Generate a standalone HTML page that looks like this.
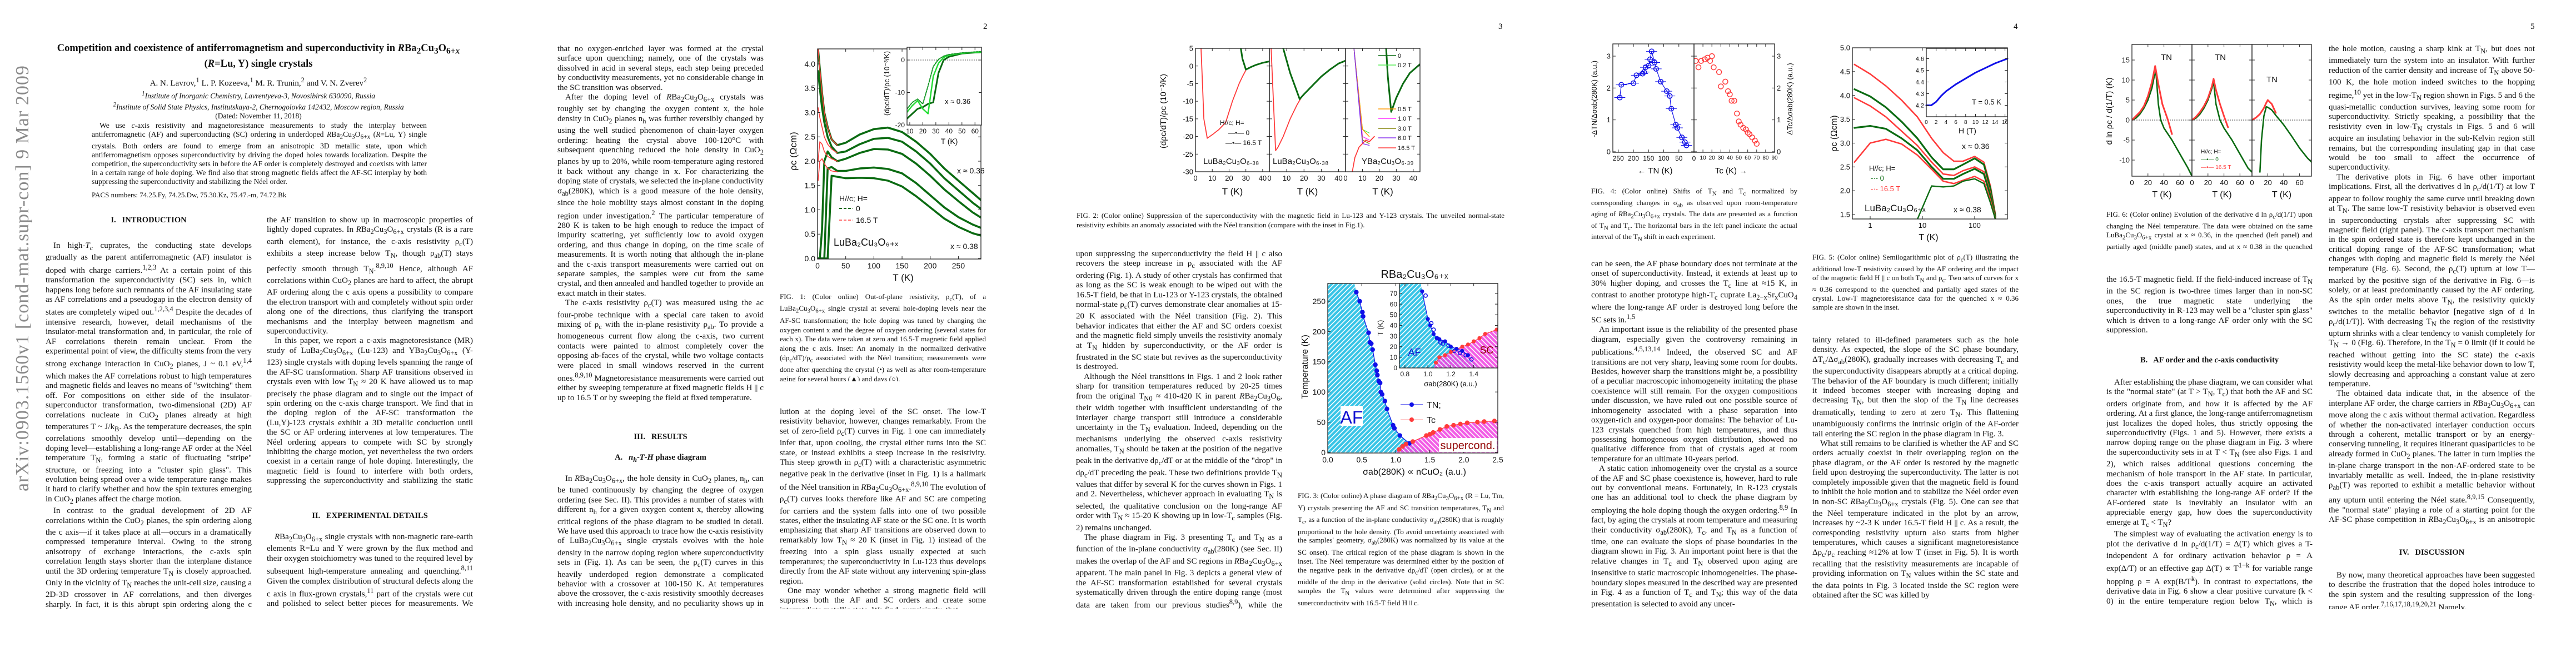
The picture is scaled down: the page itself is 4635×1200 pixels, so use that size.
<!DOCTYPE html>
<html><head><meta charset="utf-8">
<style>
html,body{margin:0;padding:0;background:#fff;}
#page{position:relative;width:4635px;height:1200px;overflow:hidden;background:#fff;font-family:"Liberation Serif",serif;color:#111;}
.col{position:absolute;width:371px;font-size:15px;line-height:17.4px;text-align:justify;overflow:hidden;hyphens:auto;}
.col p{margin:0;text-indent:14px;}
.cap{position:absolute;width:371px;font-size:13px;line-height:16.8px;text-align:justify;overflow:hidden;}
.h{position:absolute;width:371px;text-align:center;font-weight:bold;font-size:14.5px;}
.pn{position:absolute;top:40px;font-size:15px;}
#figs{position:absolute;left:0;top:0;}
</style></head>
<body>
<div id="page">

<div style="position:absolute;left:22px;top:884px;transform-origin:0 0;transform:rotate(-90deg);font-size:34px;color:#8a8a8a;white-space:nowrap;letter-spacing:1px;">arXiv:0903.1560v1 [cond-mat.supr-con] 9 Mar 2009</div>

<div style="position:absolute;left:90px;width:750px;top:76px;text-align:center;font-weight:bold;font-size:18.5px;line-height:23px;">Competition and coexistence of antiferromagnetism and superconductivity in <i>R</i>Ba<sub>2</sub>Cu<sub>3</sub>O<sub>6+<i>x</i></sub> (<i>R</i>=Lu, Y) single crystals</div>
<div style="position:absolute;left:90px;width:750px;top:137px;text-align:center;font-size:15px;">A. N. Lavrov,<sup>1</sup> L. P. Kozeeva,<sup>1</sup> M. R. Trunin,<sup>2</sup> and V. N. Zverev<sup>2</sup></div>
<div style="position:absolute;left:90px;width:750px;top:160px;text-align:center;font-size:13.5px;line-height:16px;"><i><sup>1</sup>Institute of Inorganic Chemistry, Lavrentyeva-3, Novosibirsk 630090, Russia<br><sup>2</sup>Institute of Solid State Physics, Institutskaya-2, Chernogolovka 142432, Moscow region, Russia</i><br>(Dated: November 11, 2018)</div>
<div style="position:absolute;left:165px;width:603px;top:218px;font-size:13.6px;line-height:16px;text-align:justify;text-indent:14px;">We use <i>c</i>-axis resistivity and magnetoresistance measurements to study the interplay between antiferromagnetic (AF) and superconducting (SC) ordering in underdoped <i>R</i>Ba<sub>2</sub>Cu<sub>3</sub>O<sub>6+x</sub> (<i>R</i>=Lu, Y) single crystals. Both orders are found to emerge from an anisotropic 3D metallic state, upon which antiferromagnetism opposes superconductivity by driving the doped holes towards localization. Despite the competition, the superconductivity sets in before the AF order is completely destroyed and coexists with latter in a certain range of hole doping. We find also that strong magnetic fields affect the AF-SC interplay by both suppressing the superconductivity and stabilizing the Néel order.</div>
<div style="position:absolute;left:165px;top:343px;font-size:13px;">PACS numbers: 74.25.Fy, 74.25.Dw, 75.30.Kz, 75.47.-m, 74.72.Bk</div>

<div class="h" style="left:82px;top:388px;">I.&nbsp;&nbsp; INTRODUCTION</div>
<div class="col" style="left:82px;top:434px;height:662px;"><p>In high-<i>T<sub>c</sub></i> cuprates, the conducting state develops gradually as the parent antiferromagnetic (AF) insulator is doped with charge carriers.<sup>1,2,3</sup> At a certain point of this transformation the superconductivity (SC) sets in, which happens long before such remnants of the AF insulating state as AF correlations and a pseudogap in the electron density of states are completely wiped out.<sup>1,2,3,4</sup> Despite the decades of intensive research, however, detail mechanisms of the insulator-metal transformation and, in particular, the role of AF correlations therein remain unclear. From the experimental point of view, the difficulty stems from the very strong exchange interaction in CuO<sub>2</sub> planes, J ~ 0.1 eV,<sup>1,4</sup> which makes the AF correlations robust to high temperatures and magnetic fields and leaves no means of "switching" them off. For compositions on either side of the insulator-superconductor transformation, two-dimensional (2D) AF correlations nucleate in CuO<sub>2</sub> planes already at high temperatures T ~ J/k<sub>B</sub>. As the temperature decreases, the spin correlations smoothly develop until—depending on the doping level—establishing a long-range AF order at the Néel temperature T<sub>N</sub>, forming a static of fluctuating "stripe" structure, or freezing into a "cluster spin glass". This evolution being spread over a wide temperature range makes it hard to clarify whether and how the spin textures emerging in CuO<sub>2</sub> planes affect the charge motion.</p><p>In contrast to the gradual development of 2D AF correlations within the CuO<sub>2</sub> planes, the spin ordering along the c axis—if it takes place at all—occurs in a dramatically compressed temperature interval. Owing to the strong anisotropy of exchange interactions, the c-axis spin correlation length stays shorter than the interplane distance until the 3D ordering temperature T<sub>N</sub> is closely approached. Only in the vicinity of T<sub>N</sub> reaches the unit-cell size, causing a 2D-3D crossover in AF correlations, and then diverges sharply. In fact, it is this abrupt spin ordering along the c direction that allows the AF transition to show up.</p></div>
<div class="col" style="left:480px;top:388px;height:488px;"><p style="text-indent:0">the AF transition to show up in macroscopic properties of lightly doped cuprates. In <i>R</i>Ba<sub>2</sub>Cu<sub>3</sub>O<sub>6+x</sub> crystals (R is a rare earth element), for instance, the c-axis resistivity ρ<sub>c</sub>(T) exhibits a steep increase below T<sub>N</sub>, though ρ<sub>ab</sub>(T) stays perfectly smooth through T<sub>N</sub>.<sup>8,9,10</sup> Hence, although AF correlations within CuO<sub>2</sub> planes are hard to affect, the abrupt AF ordering along the c axis opens a possibility to compare the electron transport with and completely without spin order along one of the directions, thus clarifying the transport mechanisms and the interplay between magnetism and superconductivity.</p><p>In this paper, we report a c-axis magnetoresistance (MR) study of LuBa<sub>2</sub>Cu<sub>3</sub>O<sub>6+x</sub> (Lu-123) and YBa<sub>2</sub>Cu<sub>3</sub>O<sub>6+x</sub> (Y-123) single crystals with doping levels spanning the range of the AF-SC transformation. Sharp AF transitions observed in crystals even with low T<sub>N</sub> ≈ 20 K have allowed us to map precisely the phase diagram and to single out the impact of spin ordering on the c-axis charge transport. We find that in the doping region of the AF-SC transformation the (Lu,Y)-123 crystals exhibit a 3D metallic conduction until the SC or AF ordering intervenes at low temperatures. The Néel ordering appears to compete with SC by strongly inhibiting the charge motion, yet nevertheless the two orders coexist in a certain range of hole doping. Interestingly, the magnetic field is found to interfere with both orders, suppressing the superconductivity and stabilizing the static AF order.</p></div>
<div class="h" style="left:480px;top:920px;">II.&nbsp;&nbsp; EXPERIMENTAL DETAILS</div>
<div class="col" style="left:480px;top:958px;height:138px;"><p><i>R</i>Ba<sub>2</sub>Cu<sub>3</sub>O<sub>6+x</sub> single crystals with non-magnetic rare-earth elements R=Lu and Y were grown by the flux method and their oxygen stoichiometry was tuned to the required level by subsequent high-temperature annealing and quenching.<sup>8,11</sup> Given the complex distribution of structural defects along the c axis in flux-grown crystals,<sup>11</sup> part of the crystals were cut and polished to select better pieces for measurements. We confirmed also that no oxygen-enriched layer was formed.</p></div>

<div class="pn" style="left:1769px;">2</div>
<div class="col" style="left:1003px;top:80px;height:662px;"><p style="text-indent:0">that no oxygen-enriched layer was formed at the crystal surface upon quenching; namely, one of the crystals was dissolved in acid in several steps, each step being preceded by conductivity measurements, yet no considerable change in the SC transition was observed.</p><p>After the doping level of <i>R</i>Ba<sub>2</sub>Cu<sub>3</sub>O<sub>6+x</sub> crystals was roughly set by changing the oxygen content x, the hole density in CuO<sub>2</sub> planes n<sub>h</sub> was further reversibly changed by using the well studied phenomenon of chain-layer oxygen ordering: heating the crystal above 100-120°C with subsequent quenching reduced the hole density in CuO<sub>2</sub> planes by up to 20%, while room-temperature aging restored it back without any change in x. For characterizing the doping state of crystals, we selected the in-plane conductivity σ<sub>ab</sub>(280K), which is a good measure of the hole density, since the hole mobility stays almost constant in the doping region under investigation.<sup>2</sup> The particular temperature of 280 K is taken to be high enough to reduce the impact of impurity scattering, yet sufficiently low to avoid oxygen ordering, and thus change in doping, on the time scale of measurements. It is worth noting that although the in-plane and the c-axis transport measurements were carried out on separate samples, the samples were cut from the same crystal, and then annealed and handled together to provide an exact match in their states.</p><p>The c-axis resistivity ρ<sub>c</sub>(T) was measured using the ac four-probe technique with a special care taken to avoid mixing of ρ<sub>c</sub> with the in-plane resistivity ρ<sub>ab</sub>. To provide a homogeneous current flow along the c-axis, two current contacts were painted to almost completely cover the opposing ab-faces of the crystal, while two voltage contacts were placed in small windows reserved in the current ones.<sup>8,9,10</sup> Magnetoresistance measurements were carried out either by sweeping temperature at fixed magnetic fields H || c up to 16.5 T or by sweeping the field at fixed temperature.</p></div>
<div class="h" style="left:1003px;top:778px;">III.&nbsp;&nbsp; RESULTS</div>
<div class="h" style="left:1003px;top:815px;">A.&nbsp;&nbsp; <i>n<sub>h</sub></i>-<i>T</i>-<i>H</i> phase diagram</div>
<div class="col" style="left:1003px;top:853px;height:243px;"><p>In <i>R</i>Ba<sub>2</sub>Cu<sub>3</sub>O<sub>6+x</sub>, the hole density in CuO<sub>2</sub> planes, n<sub>h</sub>, can be tuned continuously by changing the degree of oxygen ordering (see Sec. II). This provides a number of states with different n<sub>h</sub> for a given oxygen content x, thereby allowing critical regions of the phase diagram to be studied in detail. We have used this approach to trace how the c-axis resistivity of LuBa<sub>2</sub>Cu<sub>3</sub>O<sub>6+x</sub> single crystals evolves with the hole density in the narrow doping region where superconductivity sets in (Fig. 1). As can be seen, the ρ<sub>c</sub>(T) curves in this heavily underdoped region demonstrate a complicated behavior with a crossover at 100-150 K. At temperatures above the crossover, the c-axis resistivity smoothly decreases with increasing hole density, and no peculiarity shows up in this smooth evolution.</p></div>
<div class="cap" style="left:1403px;top:526px;height:160px;">FIG. 1: (Color online) Out-of-plane resistivity, ρ<sub>c</sub>(T), of a LuBa<sub>2</sub>Cu<sub>3</sub>O<sub>6+x</sub> single crystal at several hole-doping levels near the AF-SC transformation; the hole doping was tuned by changing the oxygen content x and the degree of oxygen ordering (several states for each x). The data were taken at zero and 16.5-T magnetic field applied along the c axis. Inset: An anomaly in the normalized derivative (dρ<sub>c</sub>/dT)/ρ<sub>c</sub> associated with the Néel transition; measurements were done after quenching the crystal (•) as well as after room-temperature aging for several hours (▲) and days (○).</div>
<div class="col" style="left:1403px;top:733px;height:363px;"><p style="text-indent:0">lution at the doping level of the SC onset. The low-T resistivity behavior, however, changes remarkably. From the set of zero-field ρ<sub>c</sub>(T) curves in Fig. 1 one can immediately infer that, upon cooling, the crystal either turns into the SC state, or instead exhibits a steep increase in the resistivity. This steep growth in ρ<sub>c</sub>(T) with a characteristic asymmetric negative peak in the derivative (inset in Fig. 1) is a hallmark of the Néel transition in <i>R</i>Ba<sub>2</sub>Cu<sub>3</sub>O<sub>6+x</sub>.<sup>8,9,10</sup> The evolution of ρ<sub>c</sub>(T) curves looks therefore like AF and SC are competing for carriers and the system falls into one of two possible states, either the insulating AF state or the SC one. It is worth emphasizing that sharp AF transitions are observed down to remarkably low T<sub>N</sub> ≈ 20 K (inset in Fig. 1) instead of the freezing into a spin glass usually expected at such temperatures; the superconductivity in Lu-123 thus develops directly from the AF state without any intervening spin-glass region.</p><p>One may wonder whether a strong magnetic field will suppress both the AF and SC orders and create some intermediate metallic state. We find, surprisingly, that</p></div>

<div class="pn" style="left:2696px;">3</div>
<div class="cap" style="left:1937px;top:380px;width:770px;height:36px;">FIG. 2: (Color online) Suppression of the superconductivity with the magnetic field in Lu-123 and Y-123 crystals. The unveiled normal-state resistivity exhibits an anomaly associated with the Néel transition (compare with the inset in Fig.1).</div>
<div class="col" style="left:1936px;top:449px;height:647px;"><p style="text-indent:0">upon suppressing the superconductivity the field H || c also recovers the steep increase in ρ<sub>c</sub> associated with the AF ordering (Fig. 1). A study of other crystals has confirmed that as long as the SC is weak enough to be wiped out with the 16.5-T field, be that in Lu-123 or Y-123 crystals, the obtained normal-state ρ<sub>c</sub>(T) curves demonstrate clear anomalies at 15-20 K associated with the Néel transition (Fig. 2). This behavior indicates that either the AF and SC orders coexist and the magnetic field simply unveils the resistivity anomaly at T<sub>N</sub> hidden by superconductivity, or the AF order is frustrated in the SC state but revives as the superconductivity is destroyed.</p><p>Although the Néel transitions in Figs. 1 and 2 look rather sharp for transition temperatures reduced by 20-25 times from the original T<sub>N0</sub> ≈ 410-420 K in parent <i>R</i>Ba<sub>2</sub>Cu<sub>3</sub>O<sub>6</sub>, their width together with insufficient understanding of the interlayer charge transport still introduce a considerable uncertainty in the T<sub>N</sub> evaluation. Indeed, depending on the mechanisms underlying the observed c-axis resistivity anomalies, T<sub>N</sub> should be taken at the position of the negative peak in the derivative dρ<sub>c</sub>/dT or at the middle of the "drop" in dρ<sub>c</sub>/dT preceding the peak. These two definitions provide T<sub>N</sub> values that differ by several K for the curves shown in Figs. 1 and 2. Nevertheless, whichever approach in evaluating T<sub>N</sub> is selected, the qualitative conclusion on the long-range AF order with T<sub>N</sub> ≈ 15-20 K showing up in low-T<sub>c</sub> samples (Fig. 2) remains unchanged.</p><p>The phase diagram in Fig. 3 presenting T<sub>c</sub> and T<sub>N</sub> as a function of the in-plane conductivity σ<sub>ab</sub>(280K) (see Sec. II) makes the overlap of the AF and SC regions in <i>R</i>Ba<sub>2</sub>Cu<sub>3</sub>O<sub>6+x</sub> apparent. The main panel in Fig. 3 depicts a general view of the AF-SC transformation established for several crystals systematically driven through the entire doping range (most data are taken from our previous studies<sup>8,9</sup>), while the enlarged view of the critical region with new data points is shown in the inset. As</p></div>
<div class="cap" style="left:2335px;top:884px;height:205px;line-height:15.9px;">FIG. 3: (Color online) A phase diagram of <i>R</i>Ba<sub>2</sub>Cu<sub>3</sub>O<sub>6+x</sub> (R = Lu, Tm, Y) crystals presenting the AF and SC transition temperatures, T<sub>N</sub> and T<sub>c</sub>, as a function of the in-plane conductivity σ<sub>ab</sub>(280K) that is roughly proportional to the hole density. (To avoid uncertainty associated with the samples' geometry, σ<sub>ab</sub>(280K) was normalized by its value at the SC onset). The critical region of the phase diagram is shown in the inset. The Néel temperature was determined either by the position of the negative peak in the derivative dρ<sub>c</sub>/dT (open circles), or at the middle of the drop in the derivative (solid circles). Note that in SC samples the T<sub>N</sub> values were determined after suppressing the superconductivity with 16.5-T field H || c.</div>

<div class="pn" style="left:3623px;">4</div>
<div class="cap" style="left:2863px;top:336px;height:98px;line-height:16px;">FIG. 4: (Color online) Shifts of T<sub>N</sub> and T<sub>c</sub> normalized by corresponding changes in σ<sub>ab</sub> as observed upon room-temperature aging of <i>R</i>Ba<sub>2</sub>Cu<sub>3</sub>O<sub>6+x</sub> crystals. The data are presented as a function of T<sub>N</sub> and T<sub>c</sub>. The horizontal bars in the left panel indicate the actual interval of the T<sub>N</sub> shift in each experiment.</div>
<div class="col" style="left:2863px;top:467px;height:629px;"><p style="text-indent:0">can be seen, the AF phase boundary does not terminate at the onset of superconductivity. Instead, it extends at least up to 30% higher doping, and crosses the T<sub>c</sub> line at ≈15 K, in contrast to another prototype high-T<sub>c</sub> cuprate La<sub>2−x</sub>Sr<sub>x</sub>CuO<sub>4</sub> where the long-range AF order is destroyed long before the SC sets in.<sup>1,5</sup></p><p>An important issue is the reliability of the presented phase diagram, especially given the controversy remaining in publications.<sup>4,5,13,14</sup> Indeed, the observed SC and AF transitions are not very sharp, leaving some room for doubts. Besides, however sharp the transitions might be, a possibility of a peculiar macroscopic inhomogeneity imitating the phase coexistence will still remain. For the oxygen compositions under discussion, we have ruled out one possible source of inhomogeneity associated with a phase separation into oxygen-rich and oxygen-poor domains: The behavior of Lu-123 crystals quenched from high temperatures, and thus possessing homogeneous oxygen distribution, showed no qualitative difference from that of crystals aged at room temperature for an ultimate 10-years period.</p><p>A static cation inhomogeneity over the crystal as a source of the AF and SC phase coexistence is, however, hard to rule out by conventional means. Fortunately, in R-123 crystals one has an additional tool to check the phase diagram by employing the hole doping though the oxygen ordering.<sup>8,9</sup> In fact, by aging the crystals at room temperature and measuring their conductivity σ<sub>ab</sub>(280K), T<sub>c</sub>, and T<sub>N</sub> as a function of time, one can evaluate the slops of phase boundaries in the diagram shown in Fig. 3. An important point here is that the relative changes in T<sub>c</sub> and T<sub>N</sub> observed upon aging are insensitive to static macroscopic inhomogeneities. The phase-boundary slopes measured in the described way are presented in Fig. 4 as a function of T<sub>c</sub> and T<sub>N</sub>; this way of the data presentation is selected to avoid any uncer-</p></div>
<div class="cap" style="left:3261px;top:455px;height:108px;line-height:15.7px;">FIG. 5: (Color online) Semilogarithmic plot of ρ<sub>c</sub>(T) illustrating the additional low-T resistivity caused by the AF ordering and the impact of the magnetic field H || c on both T<sub>N</sub> and ρ<sub>c</sub>. Two sets of curves for x ≈ 0.36 correspond to the quenched and partially aged states of the crystal. Low-T magnetoresistance data for the quenched x ≈ 0.36 sample are shown in the inset.</div>
<div class="col" style="left:3261px;top:604px;height:492px;"><p style="text-indent:0">tainty related to ill-defined parameters such as the hole density. As expected, the slope of the SC phase boundary, ΔT<sub>c</sub>/Δσ<sub>ab</sub>(280K), gradually increases with decreasing T<sub>c</sub> and the superconductivity disappears abruptly at a critical doping. The behavior of the AF boundary is much different; initially it indeed becomes steeper with increasing doping and decreasing T<sub>N</sub>, but then the slop of the T<sub>N</sub> line decreases dramatically, tending to zero at zero T<sub>N</sub>. This flattening unambiguously confirms the intrinsic origin of the AF-order tail entering the SC region in the phase diagram in Fig. 3.</p><p>What still remains to be clarified is whether the AF and SC orders actually coexist in their overlapping region on the phase diagram, or the AF order is restored by the magnetic field upon destroying the superconductivity. The latter is not completely impossible given that the magnetic field is found to inhibit the hole motion and to stabilize the Néel order even in non-SC <i>R</i>Ba<sub>2</sub>Cu<sub>3</sub>O<sub>6+x</sub> crystals (Fig. 5). One can see that the Néel temperature indicated in the plot by an arrow, increases by ~2-3 K under 16.5-T field H || c. As a result, the corresponding resistivity upturn also starts from higher temperatures, which causes a significant magnetoresistance Δρ<sub>c</sub>/ρ<sub>c</sub> reaching ≈12% at low T (inset in Fig. 5). It is worth recalling that the resistivity measurements are incapable of providing information on T<sub>N</sub> values within the SC state and the data points in Fig. 3 located inside the SC region were obtained after the SC was killed by</p></div>

<div class="pn" style="left:4553px;">5</div>
<div class="cap" style="left:3790px;top:378px;height:76px;line-height:15.5px;">FIG. 6: (Color online) Evolution of the derivative d ln ρ<sub>c</sub>/d(1/T) upon changing the Néel temperature. The data were obtained on the same LuBa<sub>2</sub>Cu<sub>3</sub>O<sub>6+x</sub> crystal at x ≈ 0.36, in the quenched (left panel) and partially aged (middle panel) states, and at x ≈ 0.38 in the quenched state (right panel).</div>
<div class="col" style="left:3790px;top:495px;height:105px;"><p style="text-indent:0">the 16.5-T magnetic field. If the field-induced increase of T<sub>N</sub> in the SC region is two-three times larger than in non-SC ones, the true magnetic state underlying the superconductivity in R-123 may well be a "cluster spin glass" which is driven to a long-range AF order only with the SC suppression.</p></div>
<div class="h" style="left:3790px;top:640px;">B.&nbsp;&nbsp; AF order and the <i>c</i>-axis conductivity</div>
<div class="col" style="left:3790px;top:680px;height:416px;"><p>After establishing the phase diagram, we can consider what is the "normal state" (at T &gt; T<sub>N</sub>, T<sub>c</sub>) that both the AF and SC orders originate from, and how it is affected by the AF ordering. At a first glance, the long-range antiferromagnetism just localizes the doped holes, thus strictly opposing the superconductivity (Figs. 1 and 5). However, there exists a narrow doping range on the phase diagram in Fig. 3 where the superconductivity sets in at T &lt; T<sub>N</sub> (see also Figs. 1 and 2), which raises additional questions concerning the mechanism of hole transport in the AF state. In particular, does the c-axis transport actually acquire an activated character with establishing the long-range AF order? If the AF-ordered state is inevitably an insulator with an appreciable energy gap, how does the superconductivity emerge at T<sub>c</sub> &lt; T<sub>N</sub>?</p><p>The simplest way of evaluating the activation energy is to plot the derivative d ln ρ<sub>c</sub>/d(1/T) = Δ(T) which gives a T-independent Δ for ordinary activation behavior ρ = A exp(Δ/T) or an effective gap Δ(T) ∝ T<sup>1−k</sup> for variable range hopping ρ = A exp(B/T<sup>k</sup>). In contrast to expectations, the derivative data in Fig. 6 show a clear positive curvature (k &lt; 0) in the entire temperature region below T<sub>N</sub>, which is inconsistent with a simple activated transport. The AF ordering therefore inhibits</p></div>
<div class="col" style="left:4190px;top:80px;height:866px;"><p style="text-indent:0">the hole motion, causing a sharp kink at T<sub>N</sub>, but does not immediately turn the system into an insulator. With further reduction of the carrier density and increase of T<sub>N</sub> above 50-100 K, the hole motion indeed switches to the hopping regime,<sup>10</sup> yet in the low-T<sub>N</sub> region shown in Figs. 5 and 6 the quasi-metallic conduction survives, leaving some room for superconductivity. Strictly speaking, a possibility that the resistivity even in low-T<sub>N</sub> crystals in Figs. 5 and 6 will acquire an insulating behavior in the sub-Kelvin region still remains, but the corresponding insulating gap in that case would be too small to affect the occurrence of superconductivity.</p><p>The derivative plots in Fig. 6 have other important implications. First, all the derivatives d ln ρ<sub>c</sub>/d(1/T) at low T appear to follow roughly the same curve until breaking down at T<sub>N</sub>. The same low-T resistivity behavior is observed even in superconducting crystals after suppressing SC with magnetic field (right panel). The c-axis transport mechanism in the spin ordered state is therefore kept unchanged in the critical doping range of the AF-SC transformation; what changes with doping and magnetic field is merely the Néel temperature (Fig. 6). Second, the ρ<sub>c</sub>(T) upturn at low T—marked by the positive sign of the derivative in Fig. 6—is solely, or at least predominantly caused by the AF ordering. As the spin order melts above T<sub>N</sub>, the resistivity quickly switches to the metallic behavior [negative sign of d ln ρ<sub>c</sub>/d(1/T)]. With decreasing T<sub>N</sub> the region of the resistivity upturn shrinks with a clear tendency to vanish completely for T<sub>N</sub> → 0 (Fig. 6). Therefore, in the T<sub>N</sub> = 0 limit (if it could be reached without getting into the SC state) the c-axis resistivity would keep the metal-like behavior down to low T, slowly decreasing and approaching a constant value at zero temperature.</p><p>The obtained data indicate that, in the absence of the interplane AF order, the charge carriers in <i>R</i>Ba<sub>2</sub>Cu<sub>3</sub>O<sub>6+x</sub> can move along the c axis without thermal activation. Regardless of whether the non-activated interlayer conduction occurs through a coherent, metallic transport or by an energy-conserving tunneling, it requires itinerant quasiparticles to be already formed in CuO<sub>2</sub> planes. The latter in turn implies the in-plane charge transport in the non-AF-ordered state to be invariably metallic as well. Indeed, the in-plane resistivity ρ<sub>ab</sub>(T) was reported to exhibit a metallic behavior without any upturn until entering the Néel state.<sup>8,9,15</sup> Consequently, the "normal state" playing a role of a starting point for the AF-SC phase competition in <i>R</i>Ba<sub>2</sub>Cu<sub>3</sub>O<sub>6+x</sub> is an anisotropic 3D metal that experiences the impact of SC and AF ordering upon lowering the temperature.</p></div>
<div class="h" style="left:4190px;top:986px;">IV.&nbsp;&nbsp; DISCUSSION</div>
<div class="col" style="left:4190px;top:1027px;height:69px;"><p>By now, many theoretical approaches have been suggested to describe the frustration that the doped holes introduce to the spin system and the resulting suppression of the long-range AF order.<sup>7,16,17,18,19,20,21</sup> Namely,</p></div>

<svg id="figs" width="4635" height="1200" xmlns="http://www.w3.org/2000/svg">
<defs>
<pattern id="hatchAF" width="6" height="6" patternUnits="userSpaceOnUse" patternTransform="rotate(45)"><rect width="6" height="6" fill="#38c4e6"/><rect width="1.6" height="6" fill="#ffffff"/></pattern>
<pattern id="hatchSC" width="6" height="6" patternUnits="userSpaceOnUse" patternTransform="rotate(-45)"><rect width="6" height="6" fill="#f040e0"/><rect width="1.6" height="6" fill="#ffffff"/></pattern>
</defs>
</svg>
</div>

<script>
// ---------------- DATA ----------------
// Fig 1 main: rho_c (Ohm cm) vs T (K)
const fig1T = [1,4,8,12,18,25,35,50,75,100,125,150,175,200,225,250,275,290];
const fig1Green1 = [4.3,3.9,3.4,3.0,2.7,2.45,2.33,2.38,2.55,2.66,2.69,2.6,2.4,2.15,1.85,1.6,1.35,1.2];
const fig1Green2 = [3.85,3.5,3.1,2.8,2.5,2.3,2.17,2.2,2.35,2.46,2.48,2.4,2.2,1.95,1.65,1.4,1.15,1.02];
const fig1Green3 = [0,0,0.6,2.0,2.2,2.08,2.0,2.05,2.17,2.25,2.24,2.15,1.95,1.7,1.42,1.18,0.95,0.84];
const fig1Green4 = [0,0,0,0,1.85,1.88,1.8,1.8,1.85,1.87,1.84,1.75,1.55,1.3,1.05,0.85,0.7,0.63];
const fig1Green5 = [0,0,0,0,0,1.7,1.68,1.65,1.66,1.65,1.6,1.48,1.28,1.05,0.82,0.65,0.52,0.47];
const fig1TRed = [1,4,8,12,18,25,35];
const fig1Red1 = [4.3,3.9,3.4,3.0,2.7,2.45,2.33];
const fig1Red2 = [3.1,2.9,2.7,2.5,2.35,2.25,2.17];
const fig1Red3 = [2.0,2.4,2.35,2.2,2.1,2.05,2.0];
const fig1Red4 = [1.6,2.0,2.05,1.95,1.85,1.8,1.78];
const fig1XTicks = [0,50,100,150,200,250];
const fig1YTicks = [0,0.5,1.0,1.5,2.0,2.5,3.0,3.5,4.0];
// Fig 1 inset: (drho/dT)/rho vs T
const fig1InsetT = [8,12,16,20,24,28,32,36,40,50,60,65];
const fig1InsetA = [-18,-16.5,-15,-14.5,-13.5,-13,-4,0,1,2,2.3,2.4];
const fig1InsetB = [-16,-14,-12.5,-15,-16.5,-5,-1,0.8,1.5,2.1,2.4,2.5];
const fig1InsetC = [-15,-13,-12,-13.5,-8,-2,0.2,1.2,1.7,2.2,2.5,2.6];
const fig1InsetXTicks = [10,20,30,40,50,60];
const fig1InsetYTicks = [-20,-10,0];
// Fig 2 three panels
const fig2XTicks = [0,10,20,30,40];
const fig2YTicks = [5,0,-5,-10,-15,-20,-25,-30];
const fig2aGreenT = [27,28,30,33,36,40,44];
const fig2aGreen = [5,2,-1,-0.3,0.3,0.9,1.3];
const fig2aRedT = [3.3,4,5,7,10,14,18,22,26,28,30];
const fig2aRed = [5,-3,-15,-20.5,-19.5,-18,-16,-10,-5,-3,-1.2];
const fig2bGreenT = [8,12,15,17.5,20,25,30,35,40,44];
const fig2bGreen = [5,-2,-6,-9.4,-8,-5.5,-3,-1,0.7,1.5];
const fig2bRedT = [1,2.5,3.6,5,8,12,16,19];
const fig2bRed = [5,-12,-24,-23,-20,-15,-11,-8.5];
const fig2cT = [24,25,27,30,34,38,44];
const fig2cGreen = [5,-3,-13,-9,-5,-2,0.5];
const fig2cLowT = [5,10,14];
const fig2cField02 = [5,-18,-19];
const fig2cField05 = [5,-18,-20];
const fig2cField10 = [5,-20,-21];
const fig2cField30 = [5,-21,-22];
const fig2cField60 = [5,-22,-22.5];
const fig2cRedT = [4,5.5,8,12,14,17];
const fig2cRed = [-30,-26,-23,-21,-21.5,-20];
// Fig 3 phase diagram
const fig3SigmaN = [0.42,0.47,0.51,0.52,0.6,0.62,0.64,0.66,0.7,0.72,0.73,0.75,0.77,0.78,0.8,0.84,0.87,0.96,0.98,1.06,1.2];
const fig3TN = [265,250,232,225,198,182,180,170,145,135,128,118,115,100,96,85,72,45,40,28,15];
const fig3SigmaC = [1.05,1.1,1.15,1.25,1.45,1.5,1.55,1.65,1.75,1.85,1.95,2.05,2.2,2.3,2.45];
const fig3Tc = [5,10,14,18,28,30,33,38,43,45,47,49,50,51,52];
const fig3XTicks = [0,0.5,1.0,1.5,2.0,2.5];
const fig3YTicks = [0,50,100,150,200,250];
const fig3InsetSigmaN = [0.95,1.0,1.02,1.05,1.08,1.1,1.15,1.2,1.25,1.3,1.35];
const fig3InsetTN = [72,46,40,32,28,27,25,20,18,16,12];
const fig3InsetSigmaC = [1.07,1.1,1.15,1.2,1.3,1.35,1.4,1.45,1.5,1.6];
const fig3InsetTc = [5,10,12,15,20,22,25,28,32,36];
const fig3InsetXTicks = [0.8,1.0,1.2,1.4];
const fig3InsetYTicks = [0,10,20,30,40,50,60,70];
// Fig 4
const fig4TN = [245,240,200,190,170,165,160,150,145,140,130,125,110,90,80,75,60,55,40,30,25];
const fig4dTN = [1.7,2.1,2.15,2.4,2.45,2.5,2.65,2.7,2.9,3.15,2.8,2.6,2.2,1.9,1.75,1.35,0.85,0.75,0.45,0.3,0.2];
const fig4Tc = [2,5,8,12,15,18,20,22,28,30,35,38,40,42,45,48,50,52,55,58,60,62,65,68,70];
const fig4dTc = [2.85,2.65,2.85,2.9,2.95,2.85,3.0,2.65,2.5,2.05,2.2,1.9,1.8,1.6,1.6,1.2,0.95,0.85,0.75,0.7,0.6,0.55,0.45,0.35,0.25];
const fig4XTicksN = [250,200,150,100,50,0];
const fig4XTicksC = [10,20,30,40,50,60,70,80,90];
const fig4YTicks = [0,1,2,3];
// Fig 5 (log T)
const fig5T = [0.5,1,2,4,8,15,25,40,60,100,150,200,250];
const fig5Red1 = [4.65,4.45,4.2,3.9,3.55,3.1,2.8,2.62,2.62,2.72,2.6,2.1,1.5];
const fig5Green1 = [4.13,3.98,3.75,3.45,3.1,2.7,2.45,2.45,2.55,2.68,2.55,2.05,1.45];
const fig5Red2 = [3.95,3.78,3.55,3.25,2.95,2.6,2.35,2.32,2.42,2.5,2.4,1.95,1.42];
const fig5Green2 = [3.32,3.36,3.3,3.1,2.85,2.5,2.25,2.25,2.35,2.46,2.35,1.9,1.4];
const fig5Red3 = [2.6,3.0,3.08,2.98,2.75,2.45,2.2,2.15,2.22,2.3,2.2,1.8,1.4];
const fig5GreenSC = [1.4,1.4,1.4,1.4,1.4,2.1,2.08,2.1,2.2,2.25,2.15,1.75,1.4];
const fig5XTicks = [1,10,100];
const fig5XLabels = ['1','10','100'];
const fig5YTicks = [1.5,2.0,2.5,3.0,3.5,4.0,4.5,5.0];
const fig5InsetH = [0,1,2,3,4,6,8,10,12,14,16.5];
const fig5InsetRho = [4.2,4.2,4.23,4.28,4.32,4.38,4.43,4.48,4.52,4.56,4.6];
// Fig 6 three panels
const fig6XTicks = [0,20,40,60];
const fig6YTicks = [15,10,5,0,-5,-10];
const fig6aT = [0,5,10,15,20,25,28,30,33,36,40,50,60,70,75];
const fig6aGreen = [0,0.5,1.5,3,5,8,11,12,4,0,-2,-5,-8.5,-12,-14];
const fig6aRedT = [0,5,10,15,20,25,29,33,38,45,50];
const fig6aRed = [0,1,2,3.5,6,9.5,13.5,9,4,0,-3.5];
const fig6bT = [0,5,10,15,20,25,27,30,35,40,50,60,70,75];
const fig6bGreen = [0,0.5,1.5,3,5,8,9.5,4,0,-2,-5,-8.5,-12,-13];
const fig6bRedT = [0,5,10,15,20,25,27,30,35,40,45];
const fig6bRed = [0,0.8,2,3.5,5.5,8.5,10.3,7.5,4,1,-1.8];
const fig6cT = [10,12,15,18,20,25,30,40,50,60,70,75];
const fig6cGreen = [-13,-5,1,3.3,3.2,2.5,1.2,-1.2,-4,-7,-9.5,-10.5];
const fig6cRedT = [0,5,10,15,18,20,25,30];
const fig6cRed = [0,0.6,1.5,3,4.3,5,4,1.8];

// ---------------- HELPERS ----------------
const NS = 'http://www.w3.org/2000/svg';
const root = document.getElementById('figs');
function node(parent, tag, attrs, name) {
  const e = document.createElementNS(NS, tag);
  for (const k in attrs) e.setAttribute(k, attrs[k]);
  
  
  parent.appendChild(e);
  return e;
}
function lin(d0, d1, r0, r1) { return v => r0 + (v - d0) * (r1 - r0) / (d1 - d0); }
function logS(d0, d1, r0, r1) { return v => r0 + (Math.log10(v) - Math.log10(d0)) * (r1 - r0) / (Math.log10(d1) - Math.log10(d0)); }
function group(name) { return node(root, 'g', {}, name); }
function txt(g, x, y, s, size, anchor, name, rot) {
  const t = node(g, 'text', {x: x, y: y, 'font-size': size, 'text-anchor': anchor || 'middle', 'font-family': 'Liberation Sans Narrow, Liberation Sans, sans-serif', fill: '#111'}, name);
  if (rot) t.setAttribute('transform', 'rotate(' + rot + ' ' + x + ' ' + y + ')');
  t.textContent = s;
  return t;
}
function frame(g, x0, y0, x1, y1, name) {
  node(g, 'rect', {x: x0, y: y0, width: x1 - x0, height: y1 - y0, fill: 'none', stroke: '#222', 'stroke-width': 1.3}, name);
}
function clip(g, x0, y0, x1, y1, id) {
  const c = node(g, 'clipPath', {id: id}, id);
  node(c, 'rect', {x: x0, y: y0, width: x1 - x0, height: y1 - y0}, id + '-rect');
  return node(g, 'g', {'clip-path': 'url(#' + id + ')'}, id + '-area');
}
function xticks(g, vals, labels, sx, y0, y1, size, name) {
  vals.forEach((v, i) => {
    node(g, 'line', {x1: sx(v), x2: sx(v), y1: y0, y2: y0 - 5, stroke: '#222', 'stroke-width': 1}, name + '-tick');
    node(g, 'line', {x1: sx(v), x2: sx(v), y1: y1, y2: y1 + 5, stroke: '#222', 'stroke-width': 1}, name + '-tick-top');
    if (labels) txt(g, sx(v), y0 + size + 3, labels[i], size, 'middle', name + '-label');
  });
}
function yticks(g, vals, labels, sy, x0, x1, size, name, labelRight) {
  vals.forEach((v, i) => {
    node(g, 'line', {x1: x0, x2: x0 + 5, y1: sy(v), y2: sy(v), stroke: '#222', 'stroke-width': 1}, name + '-tick');
    node(g, 'line', {x1: x1, x2: x1 - 5, y1: sy(v), y2: sy(v), stroke: '#222', 'stroke-width': 1}, name + '-tick-right');
    if (labels) {
      if (labelRight) txt(g, x1 + 4, sy(v) + size * 0.35, labels[i], size, 'start', name + '-label');
      else txt(g, x0 - 4, sy(v) + size * 0.35, labels[i], size, 'end', name + '-label');
    }
  });
}
function line(g, xs, ys, sx, sy, color, w, name, dash) {
  const pts = xs.map((x, i) => sx(x).toFixed(1) + ',' + sy(ys[i]).toFixed(1)).join(' ');
  const p = node(g, 'polyline', {points: pts, fill: 'none', stroke: color, 'stroke-width': w, 'stroke-linejoin': 'round', 'stroke-linecap': 'round'}, name);
  if (dash) p.setAttribute('stroke-dasharray', dash);
  return p;
}
function dots(g, xs, ys, sx, sy, color, r, name, open) {
  xs.forEach((x, i) => {
    node(g, 'circle', {cx: sx(x), cy: sy(ys[i]), r: r, fill: open ? 'none' : color, stroke: color, 'stroke-width': open ? 1.5 : 0}, name);
  });
}
function lab(arr, f) { return arr.map(v => f ? f(v) : String(v)); }
const G = '#0b6b12', R = '#ff3b3b', B = '#1010e8';

// ---------------- FIG 1 ----------------
(function () {
  const g = group('fig1-resistivity-chart');
  const x0 = 1471, x1 = 1765, y0 = 466, y1 = 88;
  const sx = lin(0, 290, x0, x1), sy = lin(0, 4.0, 465, 115);
  const a = clip(g, x0, y1, x1, y0, 'fig1clip');
  [fig1Green1, fig1Green2, fig1Green3, fig1Green4, fig1Green5].forEach((s, i) => line(a, fig1T, s, sx, sy, G, 3.6, 'fig1-green-curve-' + (i + 1)));
  [fig1Red1, fig1Red2, fig1Red3, fig1Red4].forEach((s, i) => line(a, fig1TRed, s, sx, sy, R, 1.6, 'fig1-red-curve-' + (i + 1)));
  frame(g, x0, y1, x1, y0, 'fig1-frame');
  xticks(g, fig1XTicks, lab(fig1XTicks), sx, y0, y1, 14, 'fig1-x');
  yticks(g, fig1YTicks, lab(fig1YTicks, v => v.toFixed(1)), sy, x0, x1, 14, 'fig1-y');
  txt(g, 1625, 505, 'T (K)', 17, 'middle', 'fig1-x-title');
  txt(g, 1433, 272, 'ρc  (Ωcm)', 17, 'middle', 'fig1-y-title', -90);
  txt(g, 1510, 362, 'H//c; H=', 14, 'start', 'fig1-legend-title');
  node(g, 'line', {x1: 1510, x2: 1535, y1: 375, y2: 375, stroke: G, 'stroke-width': 2, 'stroke-dasharray': '5,3'}, 'fig1-legend-green-line');
  txt(g, 1540, 380, '0', 14, 'start', 'fig1-legend-green-label');
  node(g, 'line', {x1: 1510, x2: 1535, y1: 396, y2: 396, stroke: R, 'stroke-width': 1.5, 'stroke-dasharray': '5,3'}, 'fig1-legend-red-line');
  txt(g, 1540, 401, '16.5 T', 14, 'start', 'fig1-legend-red-label');
  txt(g, 1500, 442, 'LuBa₂Cu₃O₆₊ₓ', 18, 'start', 'fig1-compound-label');
  txt(g, 1722, 312, 'x ≈ 0.36', 14, 'start', 'fig1-x036-label');
  txt(g, 1710, 448, 'x ≈ 0.38', 14, 'start', 'fig1-x038-label');
  // inset
  const ix0 = 1632, ix1 = 1766, iy0 = 225, iy1 = 85;
  const isx = lin(7.9, 65, ix0, ix1), isy = lin(0, -20, 108, 225);
  node(g, 'rect', {x: ix0, y: iy1, width: ix1 - ix0, height: iy0 - iy1, fill: '#fff'}, 'fig1-inset-bg');
  node(g, 'line', {x1: ix0, x2: ix1, y1: isy(0), y2: isy(0), stroke: '#444', 'stroke-width': 1, 'stroke-dasharray': '2,2'}, 'fig1-inset-zero-line');
  const ia = clip(g, ix0, iy1, ix1, iy0, 'fig1iclip');
  line(ia, fig1InsetT, fig1InsetA, isx, isy, G, 3, 'fig1-inset-quenched');
  line(ia, fig1InsetT, fig1InsetB, isx, isy, '#22dd33', 2.5, 'fig1-inset-hours');
  line(ia, fig1InsetT, fig1InsetC, isx, isy, '#1a9a2a', 2, 'fig1-inset-days', '3,2');
  frame(g, ix0, iy1, ix1, iy0, 'fig1-inset-frame');
  xticks(g, fig1InsetXTicks, lab(fig1InsetXTicks), isx, iy0, iy1, 12, 'fig1-inset-x');
  yticks(g, fig1InsetYTicks, lab(fig1InsetYTicks), isy, ix0, ix1, 12, 'fig1-inset-y');
  txt(g, 1708, 259, 'T (K)', 14, 'middle', 'fig1-inset-x-title');
  txt(g, 1600, 150, '(dρc/dT)/ρc (10⁻³/K)', 13, 'middle', 'fig1-inset-y-title', -90);
  txt(g, 1700, 187, 'x ≈ 0.36', 13, 'start', 'fig1-inset-x-label');
})();

// ---------------- FIG 2 ----------------
(function () {
  const g = group('fig2-derivative-chart');
  const y0 = 309, y1 = 87;
  const sy = lin(5, -30, 87, 309);
  const panels = [[2151, 2284], [2284, 2421], [2421, 2555]];
  panels.forEach((p, k) => {
    const sx = lin(0, 44, p[0], p[1]);
    const a = clip(g, p[0], y1, p[1], y0, 'fig2clip' + k);
    if (k === 0) { line(a, fig2aRedT, fig2aRed, sx, sy, R, 1.8, 'fig2a-red'); line(a, fig2aGreenT, fig2aGreen, sx, sy, G, 3, 'fig2a-green'); }
    if (k === 1) { line(a, fig2bRedT, fig2bRed, sx, sy, R, 1.8, 'fig2b-red'); line(a, fig2bGreenT, fig2bGreen, sx, sy, G, 3, 'fig2b-green'); }
    if (k === 2) {
      line(a, fig2cLowT, fig2cField02, sx, sy, '#55ee55', 1.4, 'fig2c-0.2T');
      line(a, fig2cLowT, fig2cField05, sx, sy, '#ff9900', 1.4, 'fig2c-0.5T');
      line(a, fig2cLowT, fig2cField10, sx, sy, '#ff33ff', 1.4, 'fig2c-1.0T');
      line(a, fig2cLowT, fig2cField30, sx, sy, '#888811', 1.4, 'fig2c-3.0T');
      line(a, fig2cLowT, fig2cField60, sx, sy, '#8833ee', 1.4, 'fig2c-6.0T');
      line(a, fig2cRedT, fig2cRed, sx, sy, R, 1.8, 'fig2c-16.5T');
      line(a, fig2cT, fig2cGreen, sx, sy, G, 3, 'fig2c-green');
    }
    frame(g, p[0], y1, p[1], y0, 'fig2-panel-frame');
    xticks(g, fig2XTicks, lab(fig2XTicks), sx, y0, y1, 13, 'fig2-x');
    yticks(g, fig2YTicks, k === 0 ? lab(fig2YTicks) : null, sy, p[0], p[1], 13, 'fig2-y');
    txt(g, (p[0] + p[1]) / 2, 350, 'T (K)', 17, 'middle', 'fig2-x-title');
  });
  txt(g, 2098, 200, '(dρc/dT)/ρc  (10⁻³/K)', 15, 'middle', 'fig2-y-title', -90);
  txt(g, 2195, 225, 'H//c; H=', 12, 'start', 'fig2a-legend-title');
  txt(g, 2210, 243, '—•— 0', 12, 'start', 'fig2a-legend-green');
  txt(g, 2205, 261, '—•— 16.5 T', 12, 'start', 'fig2a-legend-red');
  txt(g, 2165, 295, 'LuBa₂Cu₃O₆.₃₈', 15, 'start', 'fig2a-compound');
  txt(g, 2290, 295, 'LuBa₂Cu₃O₆.₃₈', 15, 'start', 'fig2b-compound');
  txt(g, 2450, 295, 'YBa₂Cu₃O₆.₃₉', 15, 'start', 'fig2c-compound');
  const leg = [['0', G], ['0.2 T', '#55ee55'], ['0.5 T', '#ff9900'], ['1.0 T', '#ff33ff'], ['3.0 T', '#888811'], ['6.0 T', '#8833ee'], ['16.5 T', R]];
  const ly = [104, 121, 200, 217, 235, 252, 270];
  leg.forEach((l, i) => {
    node(g, 'line', {x1: 2480, x2: 2512, y1: ly[i] - 4, y2: ly[i] - 4, stroke: l[1], 'stroke-width': 1.5}, 'fig2c-legend-line');
    txt(g, 2515, ly[i], l[0], 11, 'start', 'fig2c-legend-label');
  });
})();

// ---------------- FIG 3 ----------------
(function () {
  const g = group('fig3-phase-diagram');
  const x0 = 2389, x1 = 2695, y0 = 815, y1 = 510;
  const sx = lin(0, 2.5, x0, x1), sy = lin(0, 250, 814, 542);
  const a = clip(g, x0, y1, x1, y0, 'fig3clip');
  let af = sx(0) + ',' + sy(0) + ' ' + sx(0) + ',' + sy(300) + ' ' + sx(0.35) + ',' + sy(300) + ' ';
  af += fig3SigmaN.map((s, i) => sx(s) + ',' + sy(fig3TN[i])).join(' ') + ' ' + sx(1.45) + ',' + sy(0);
  node(a, 'polygon', {points: af, fill: 'url(#hatchAF)'}, 'fig3-af-region');
  let sc = sx(1.0) + ',' + sy(0) + ' ' + fig3SigmaC.map((s, i) => sx(s) + ',' + sy(fig3Tc[i])).join(' ') + ' ' + sx(2.5) + ',' + sy(53) + ' ' + sx(2.5) + ',' + sy(0);
  node(a, 'polygon', {points: sc, fill: 'url(#hatchSC)', opacity: 0.85}, 'fig3-sc-region');
  line(a, fig3SigmaN, fig3TN, sx, sy, B, 1.3, 'fig3-tn-line');
  line(a, fig3SigmaC, fig3Tc, sx, sy, R, 1.3, 'fig3-tc-line');
  dots(a, fig3SigmaN, fig3TN, sx, sy, B, 4.2, 'fig3-tn-point');
  dots(a, fig3SigmaC, fig3Tc, sx, sy, R, 4.2, 'fig3-tc-point');
  frame(g, x0, y1, x1, y0, 'fig3-frame');
  xticks(g, fig3XTicks, lab(fig3XTicks, v => v.toFixed(1)), sx, y0, y1, 14, 'fig3-x');
  yticks(g, fig3YTicks, lab(fig3YTicks), sy, x0, x1, 14, 'fig3-y');
  txt(g, 2545, 500, 'RBa₂Cu₃O₆₊ₓ', 20, 'middle', 'fig3-title');
  txt(g, 2545, 854, 'σab(280K) ∝ nCuO₂  (a.u.)', 16, 'middle', 'fig3-x-title');
  txt(g, 2353, 660, 'Temperature  (K)', 16, 'middle', 'fig3-y-title', -90);
  node(g, 'rect', {x: 2412, y: 730, width: 40, height: 36, fill: '#fff'}, 'fig3-af-label-bg');
  txt(g, 2432, 762, 'AF', 32, 'middle', 'fig3-af-label').setAttribute('fill', '#1010d0');
  node(g, 'rect', {x: 2589, y: 788, width: 104, height: 25, fill: '#fff'}, 'fig3-sc-label-bg');
  txt(g, 2641, 808, 'supercond.', 20, 'middle', 'fig3-sc-label').setAttribute('fill', '#900000');
  node(g, 'line', {x1: 2520, x2: 2560, y1: 728, y2: 728, stroke: B, 'stroke-width': 1}, 'fig3-legend-tn-line');
  node(g, 'circle', {cx: 2540, cy: 728, r: 4, fill: B}, 'fig3-legend-tn-dot');
  txt(g, 2567, 734, 'TN;', 16, 'start', 'fig3-legend-tn');
  node(g, 'line', {x1: 2520, x2: 2560, y1: 755, y2: 755, stroke: '#f99', 'stroke-width': 1}, 'fig3-legend-tc-line');
  node(g, 'circle', {cx: 2540, cy: 755, r: 4, fill: R}, 'fig3-legend-tc-dot');
  txt(g, 2567, 761, 'Tc', 16, 'start', 'fig3-legend-tc');
  // inset
  const ix0 = 2518, ix1 = 2695, iy0 = 662, iy1 = 510;
  const isx = lin(0.752, 1.61, ix0, ix1), isy = lin(0, 70, 662, 528);
  node(g, 'rect', {x: ix0, y: iy1, width: ix1 - ix0, height: iy0 - iy1, fill: '#fff'}, 'fig3-inset-bg');
  const ia = clip(g, ix0, iy1, ix1, iy0, 'fig3iclip');
  let iaf = isx(0.75) + ',' + isy(0) + ' ' + isx(0.75) + ',' + isy(90) + ' ' + isx(0.92) + ',' + isy(90) + ' ' + fig3InsetSigmaN.map((s, i) => isx(s) + ',' + isy(fig3InsetTN[i])).join(' ') + ' ' + isx(1.45) + ',' + isy(0);
  node(ia, 'polygon', {points: iaf, fill: 'url(#hatchAF)'}, 'fig3-inset-af-region');
  let isc = isx(1.05) + ',' + isy(0) + ' ' + fig3InsetSigmaC.map((s, i) => isx(s) + ',' + isy(fig3InsetTc[i])).join(' ') + ' ' + isx(1.62) + ',' + isy(0);
  node(ia, 'polygon', {points: isc, fill: 'url(#hatchSC)', opacity: 0.85}, 'fig3-inset-sc-region');
  line(ia, fig3InsetSigmaN, fig3InsetTN, isx, isy, B, 1.2, 'fig3-inset-tn-line');
  line(ia, fig3InsetSigmaC, fig3InsetTc, isx, isy, R, 1.2, 'fig3-inset-tc-line');
  dots(ia, fig3InsetSigmaN, fig3InsetTN, isx, isy, B, 3.6, 'fig3-inset-tn-point');
  dots(ia, fig3InsetSigmaN.map(v => v + 0.03), fig3InsetTN.map(v => v - 4), isx, isy, B, 3.2, 'fig3-inset-tn-open', true);
  dots(ia, fig3InsetSigmaC, fig3InsetTc, isx, isy, R, 3.6, 'fig3-inset-tc-point');
  frame(g, ix0, iy1, ix1, iy0, 'fig3-inset-frame');
  xticks(g, fig3InsetXTicks, lab(fig3InsetXTicks, v => v.toFixed(1)), isx, iy0, iy1, 12, 'fig3-inset-x');
  yticks(g, fig3InsetYTicks, lab(fig3InsetYTicks), isy, ix0, ix1, 12, 'fig3-inset-y');
  txt(g, 2610, 695, 'σab(280K) (a.u.)', 13, 'middle', 'fig3-inset-x-title');
  txt(g, 2488, 590, 'T (K)', 13, 'middle', 'fig3-inset-y-title', -90);
  txt(g, 2545, 640, 'AF', 18, 'middle', 'fig3-inset-af-label').setAttribute('fill', '#1010d0');
  txt(g, 2675, 636, 'SC', 18, 'middle', 'fig3-inset-sc-label').setAttribute('fill', '#900000');
})();

// ---------------- FIG 4 ----------------
(function () {
  const g = group('fig4-slope-chart');
  const y0 = 274, y1 = 79;
  const sy = lin(0, 3, 273, 101);
  const sxa = lin(268, 0, 2902, 3048), sxb = lin(0, 90, 3048, 3193);
  const a = clip(g, 2902, y1, 3048, y0, 'fig4clipa');
  fig4TN.forEach((t, i) => node(a, 'line', {x1: sxa(t + 18), x2: sxa(t - 18), y1: sy(fig4dTN[i]), y2: sy(fig4dTN[i]), stroke: B, 'stroke-width': 1}, 'fig4-tn-errorbar'));
  line(a, fig4TN, fig4dTN, sxa, sy, B, 1.2, 'fig4-tn-line');
  dots(a, fig4TN, fig4dTN, sxa, sy, B, 4.3, 'fig4-tn-point', true);
  const b = clip(g, 3048, y1, 3193, y0, 'fig4clipb');
  dots(b, fig4Tc, fig4dTc, sxb, sy, R, 4.5, 'fig4-tc-point', true);
  frame(g, 2902, y1, 3048, y0, 'fig4-left-frame');
  frame(g, 3048, y1, 3193, y0, 'fig4-right-frame');
  xticks(g, fig4XTicksN, lab(fig4XTicksN), sxa, y0, y1, 12, 'fig4-x-tn');
  xticks(g, fig4XTicksC, lab(fig4XTicksC), sxb, y0, y1, 10, 'fig4-x-tc');
  yticks(g, fig4YTicks, lab(fig4YTicks), sy, 2902, 3048, 13, 'fig4-y-left');
  yticks(g, fig4YTicks, lab(fig4YTicks), sy, 3048, 3193, 13, 'fig4-y-right', true);
  txt(g, 2978, 312, '← TN (K)', 15, 'middle', 'fig4-x-title-tn');
  txt(g, 3115, 312, 'Tc (K) →', 15, 'middle', 'fig4-x-title-tc');
  txt(g, 2873, 178, '-ΔTN/Δσab(280K)  (a.u.)', 13, 'middle', 'fig4-y-title-left', -90);
  txt(g, 3225, 178, 'ΔTc/Δσab(280K)  (a.u.)', 13, 'middle', 'fig4-y-title-right', -90);
})();

// ---------------- FIG 5 ----------------
(function () {
  const g = group('fig5-semilog-chart');
  const x0 = 3333, x1 = 3612, y0 = 394, y1 = 86;
  const sx = logS(1, 10, 3365, 3459), sy = lin(1.5, 5.0, 386, 86);
  const a = clip(g, x0, y1, x1, y0, 'fig5clip');
  line(a, fig5T, fig5Red1, sx, sy, R, 2.6, 'fig5-red-curve-1');
  line(a, fig5T, fig5Green1, sx, sy, G, 3.2, 'fig5-green-curve-1');
  line(a, fig5T, fig5Red2, sx, sy, R, 2.6, 'fig5-red-curve-2');
  line(a, fig5T, fig5Green2, sx, sy, G, 3.2, 'fig5-green-curve-2');
  line(a, fig5T, fig5Red3, sx, sy, R, 2.6, 'fig5-red-curve-3');
  line(a, fig5T, fig5GreenSC, sx, sy, G, 2.4, 'fig5-green-curve-sc');
  frame(g, x0, y1, x1, y0, 'fig5-frame');
  xticks(g, fig5XTicks, fig5XLabels, sx, y0, y1, 13, 'fig5-x');
  yticks(g, fig5YTicks, lab(fig5YTicks, v => v.toFixed(1)), sy, x0, x1, 13, 'fig5-y');
  txt(g, 3470, 432, 'T (K)', 16, 'middle', 'fig5-x-title');
  txt(g, 3305, 240, 'ρc  (Ωcm)', 16, 'middle', 'fig5-y-title', -90);
  txt(g, 3363, 307, 'H//c; H=', 13, 'start', 'fig5-legend-title');
  txt(g, 3366, 325, '-·- 0', 13, 'start', 'fig5-legend-green').setAttribute('fill', G);
  txt(g, 3366, 344, '-·- 16.5 T', 13, 'start', 'fig5-legend-red').setAttribute('fill', R);
  txt(g, 3355, 380, 'LuBa₂Cu₃O₆₊ₓ', 17, 'start', 'fig5-compound-label');
  txt(g, 3530, 268, 'x ≈ 0.36', 14, 'start', 'fig5-x036-label');
  txt(g, 3515, 382, 'x ≈ 0.38', 14, 'start', 'fig5-x038-label');
  // inset
  const ix0 = 3466, ix1 = 3612, iy0 = 210, iy1 = 87;
  const isx = lin(0, 16.5, ix0, ix1), isy = lin(4.15, 4.65, 200, 95);
  node(g, 'rect', {x: ix0, y: iy1, width: ix1 - ix0, height: iy0 - iy1, fill: '#fff'}, 'fig5-inset-bg');
  line(g, fig5InsetH, fig5InsetRho, isx, isy, B, 3, 'fig5-inset-curve');
  frame(g, ix0, iy1, ix1, iy0, 'fig5-inset-frame');
  const hT = [0, 2, 4, 6, 8, 10, 12, 14, 16];
  xticks(g, hT, lab(hT), isx, iy0, iy1, 10, 'fig5-inset-x');
  const rT = [4.2, 4.3, 4.4, 4.5, 4.6];
  yticks(g, rT, lab(rT, v => v.toFixed(1)), isy, ix0, ix1, 11, 'fig5-inset-y');
  txt(g, 3540, 240, 'H (T)', 14, 'middle', 'fig5-inset-x-title');
  txt(g, 3548, 188, 'T = 0.5 K', 13, 'start', 'fig5-inset-temp-label');
})();

// ---------------- FIG 6 ----------------
(function () {
  const g = group('fig6-log-derivative-chart');
  const y0 = 317, y1 = 80;
  const sy = lin(0, 15, 216, 108);
  const panels = [[3836, 3944], [3944, 4052], [4052, 4159]];
  panels.forEach((p, k) => {
    const sx = lin(0, 75, p[0], p[1]);
    node(g, 'line', {x1: p[0], x2: p[1], y1: sy(0), y2: sy(0), stroke: '#333', 'stroke-width': 1, 'stroke-dasharray': '2,2'}, 'fig6-zero-line');
    const a = clip(g, p[0], y1, p[1], y0, 'fig6clip' + k);
    if (k === 0) { line(a, fig6aT, fig6aGreen, sx, sy, G, 2.6, 'fig6a-green'); line(a, fig6aRedT, fig6aRed, sx, sy, R, 3, 'fig6a-red'); }
    if (k === 1) { line(a, fig6bT, fig6bGreen, sx, sy, G, 2.6, 'fig6b-green'); line(a, fig6bRedT, fig6bRed, sx, sy, R, 3, 'fig6b-red'); }
    if (k === 2) { line(a, fig6cRedT, fig6cRed, sx, sy, R, 3, 'fig6c-red'); line(a, fig6cT, fig6cGreen, sx, sy, G, 2.6, 'fig6c-green'); }
    frame(g, p[0], y1, p[1], y0, 'fig6-panel-frame');
    xticks(g, fig6XTicks, lab(fig6XTicks), sx, y0, y1, 13, 'fig6-x');
    yticks(g, fig6YTicks, k === 0 ? lab(fig6YTicks) : null, sy, p[0], p[1], 13, 'fig6-y');
    txt(g, (p[0] + p[1]) / 2, 355, 'T (K)', 16, 'middle', 'fig6-x-title');
  });
  txt(g, 3800, 200, 'd ln ρc / d(1/T)  (K)', 15, 'middle', 'fig6-y-title', -90);
  txt(g, 3888, 108, 'TN', 15, 'start', 'fig6a-tn-label');
  txt(g, 3985, 108, 'TN', 15, 'start', 'fig6b-tn-label');
  txt(g, 4078, 148, 'TN', 15, 'start', 'fig6c-tn-label');
  txt(g, 3960, 276, 'H//c; H=', 10, 'start', 'fig6-legend-title');
  txt(g, 3960, 290, '—•— 0', 10, 'start', 'fig6-legend-green').setAttribute('fill', G);
  txt(g, 3960, 304, '—•— 16.5 T', 10, 'start', 'fig6-legend-red').setAttribute('fill', R);
})();
</script>
</body></html>
